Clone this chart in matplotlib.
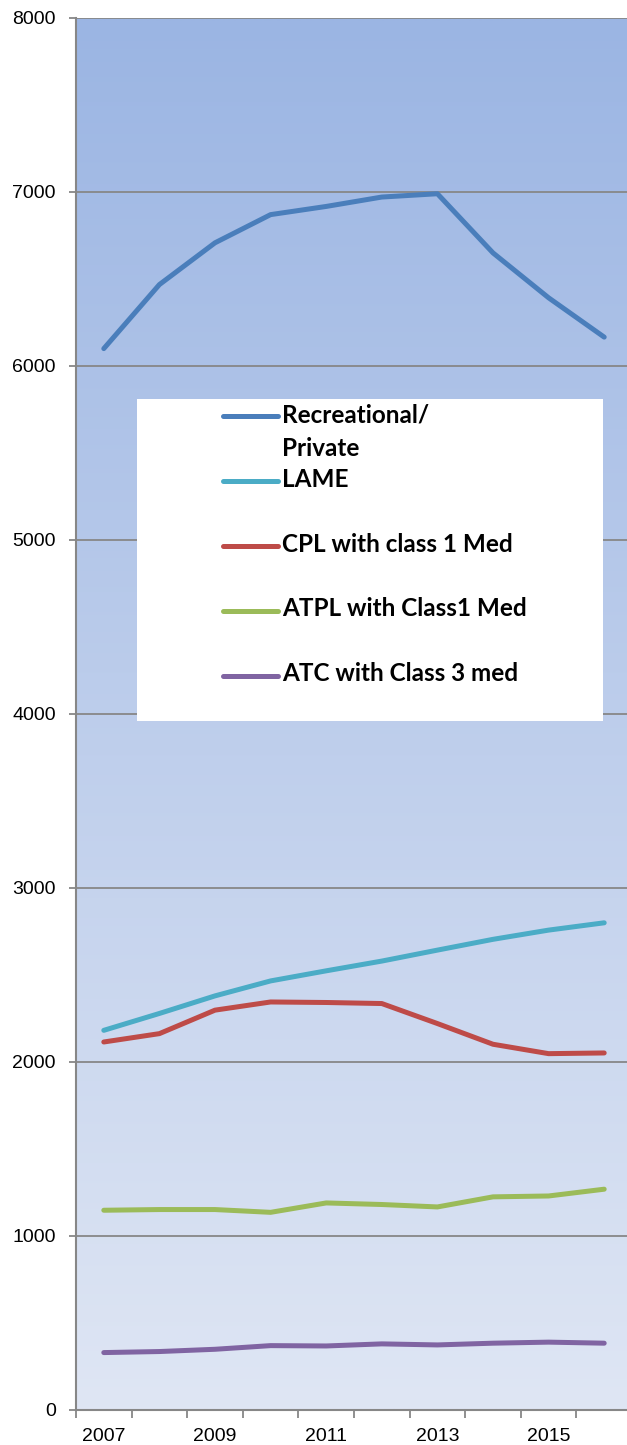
import numpy as np
import matplotlib
matplotlib.use("Agg")
import matplotlib.pyplot as plt
from matplotlib.patches import Rectangle

plt.rcParams['font.family'] = ['Liberation Sans', 'DejaVu Sans']

years = [2007, 2008, 2009, 2010, 2011, 2012, 2013, 2014, 2015, 2016]
recreational = [6100, 6468, 6708, 6870, 6917, 6971, 6990, 6650, 6392, 6166]
lame = [2182, 2279, 2380, 2466, 2524, 2580, 2643, 2705, 2758, 2800]
cpl = [2115, 2163, 2298, 2345, 2342, 2336, 2221, 2102, 2048, 2052]
atpl = [1148, 1152, 1152, 1136, 1190, 1181, 1167, 1225, 1230, 1269]
atc = [330, 336, 349, 370, 368, 380, 374, 384, 390, 384]

names = ["Recreational/\nPrivate", "LAME", "CPL with class 1 Med",
         "ATPL with Class1 Med", "ATC with Class 3 med"]
series = [recreational, lame, cpl, atpl, atc]
colors = ["#4A7EBB", "#4BACC6", "#BE4B48", "#9BBB59", "#8064A2"]
yticks = [0, 1000, 2000, 3000, 4000, 5000, 6000, 7000, 8000]

W, H = 627, 1445
fig = plt.figure(figsize=(W / 100, H / 100), dpi=100)
fig.patch.set_facecolor("white")
ax = fig.add_axes([76 / W, 35 / H, 556 / W, 1392 / H])

x = np.arange(len(years))
ax.set_xlim(-0.5, len(years) - 0.5)
ax.set_ylim(0, 8000)

# gradient background
grad = np.linspace(0, 1, 256).reshape(-1, 1)
top = np.array([155, 181, 227]) / 255
bot = np.array([223, 230, 244]) / 255
img = bot[None, None, :] * (1 - grad[..., None]) + top[None, None, :] * grad[..., None]
ax.imshow(img, extent=(-0.5, len(years) - 0.5, 0, 8000), origin="lower",
          aspect="auto", zorder=0, interpolation="bilinear")

for yt in yticks:
    ax.axhline(yt, color="#878787", lw=1.3, zorder=1)

lines = []
for vals, c, n in zip(series, colors, names):
    ln, = ax.plot(x, vals, color=c, lw=3.6, solid_capstyle="round",
                  solid_joinstyle="round", zorder=3, label=n)
    lines.append(ln)

for s in ["top", "right"]:
    ax.spines[s].set_visible(False)
ax.spines["left"].set_color("#878787")
ax.spines["left"].set_linewidth(1.5)
ax.spines["bottom"].set_color("#878787")
ax.spines["bottom"].set_linewidth(1.5)

ax.set_yticks(yticks)
ax.set_yticklabels([str(v) for v in yticks])
ax.tick_params(axis="y", direction="out", length=5, width=1.3, color="#878787",
               pad=9.5, labelsize=14)
ax.set_xticks(x[::2])
ax.set_xticklabels([str(y) for y in years[::2]])
ax.set_xticks(np.arange(-0.5, len(years), 1.0), minor=True)
ax.tick_params(axis="x", which="major", length=0, pad=13, labelsize=14)
ax.tick_params(axis="x", which="minor", direction="out", length=6, width=1.3,
               color="#878787")

# legend box
rect = Rectangle((137 / W, 1 - 721 / H), (603 - 137) / W, (721 - 399) / H,
                 transform=fig.transFigure, facecolor="white", edgecolor="none",
                 zorder=4)
ax.add_artist(rect)

labels = [n if "\n" in n else n + "\n" for n in names]
fs = 17.5
leg = ax.legend(lines, labels, loc="upper left",
                bbox_to_anchor=(223 / W, 1 - 403 / H),
                bbox_transform=fig.transFigure, frameon=False,
                prop={"family": ["Lato", "Liberation Sans"],
                      "weight": "bold", "size": fs},
                handlelength=55 / (fs * 100 / 72), handletextpad=0.16,
                borderpad=0, borderaxespad=0, labelspacing=0.305)
leg.set_zorder(5)
for t in leg.get_texts():
    t.set_linespacing(1.6)
for hl in leg.get_lines():
    hl.set_linewidth(3.6)
    yd = np.asarray(hl.get_ydata(), dtype=float)
    hl.set_ydata(yd + 16.25 * 72 / 100)

fig.savefig("out.png", dpi=100)
